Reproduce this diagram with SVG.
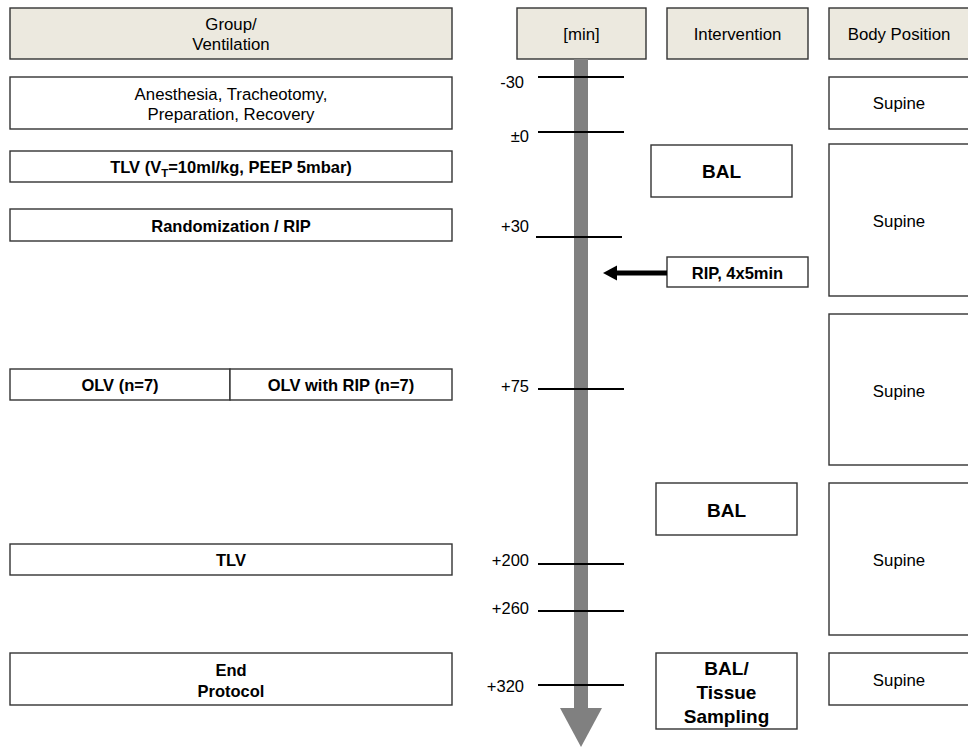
<svg xmlns="http://www.w3.org/2000/svg" width="968" height="749" viewBox="0 0 968 749">
<style>
  .box{fill:#ffffff;stroke:#333333;stroke-width:1.4}
  .hdr{fill:#ece9df;stroke:#333333;stroke-width:1.4}
  text{font-family:"Liberation Sans",Arial,sans-serif;fill:#000000;text-anchor:middle}
  .r{font-size:16.8px}
  .b{font-size:16.5px;font-weight:bold}
  .bb{font-size:19px;font-weight:bold}
  .lbl{font-size:16.5px;text-anchor:end}
  .tick{stroke:#000000;stroke-width:2}
</style>
<rect width="968" height="749" fill="#ffffff"/>

<g id="hdr-group">
  <rect class="hdr" x="10" y="8" width="442" height="51"/>
  <text class="r" x="231" y="30">Group/</text>
  <text class="r" x="231" y="50">Ventilation</text>
</g>
<g id="hdr-min">
  <rect class="hdr" x="517" y="8" width="129" height="51"/>
  <text class="r" x="581.5" y="40">[min]</text>
</g>
<g id="hdr-intervention">
  <rect class="hdr" x="667" y="8" width="141" height="51"/>
  <text class="r" x="737.5" y="40">Intervention</text>
</g>
<g id="hdr-body">
  <rect class="hdr" x="829" y="8" width="142" height="51"/>
  <text class="r" x="899" y="40">Body Position</text>
</g>

<g id="anesthesia">
  <rect class="box" x="10" y="77" width="442" height="52"/>
  <text class="r" x="231" y="100">Anesthesia, Tracheotomy,</text>
  <text class="r" x="231" y="120">Preparation, Recovery</text>
</g>
<g id="tlv1">
  <rect class="box" x="10" y="151" width="442" height="31"/>
  <text class="b" x="231" y="173">TLV (V<tspan font-size="11.5px" dy="4">T</tspan><tspan dy="-4">=10ml/kg, PEEP 5mbar)</tspan></text>
</g>
<g id="random">
  <rect class="box" x="10" y="209" width="442" height="32"/>
  <text class="b" x="231" y="232">Randomization / RIP</text>
</g>
<g id="olv">
  <rect class="box" x="10" y="369" width="220" height="31"/>
  <text class="b" x="120" y="391">OLV (n=7)</text>
</g>
<g id="olv-rip">
  <rect class="box" x="230" y="369" width="222" height="31"/>
  <text class="b" x="341" y="391">OLV with RIP (n=7)</text>
</g>
<g id="tlv2">
  <rect class="box" x="10" y="544" width="442" height="31"/>
  <text class="b" x="231" y="566">TLV</text>
</g>
<g id="end">
  <rect class="box" x="10" y="653" width="442" height="52"/>
  <text class="b" x="231" y="676">End</text>
  <text class="b" x="231" y="697">Protocol</text>
</g>

<g id="timeline">
  <rect x="574" y="59" width="14" height="650" fill="#808080"/>
  <polygon points="560,708 602,708 581,747" fill="#808080"/>
  <line class="tick" x1="538" y1="77" x2="624" y2="77"/>
  <line class="tick" x1="538" y1="132" x2="624" y2="132"/>
  <line class="tick" x1="536" y1="237" x2="622" y2="237"/>
  <line class="tick" x1="538" y1="389" x2="624" y2="389"/>
  <line class="tick" x1="538" y1="564" x2="624" y2="564"/>
  <line class="tick" x1="538" y1="611" x2="624" y2="611"/>
  <line class="tick" x1="538" y1="685" x2="624" y2="685"/>
  <text class="lbl" x="524" y="88">-30</text>
  <text class="lbl" x="529" y="142">±0</text>
  <text class="lbl" x="529" y="232">+30</text>
  <text class="lbl" x="529" y="392">+75</text>
  <text class="lbl" x="529" y="566">+200</text>
  <text class="lbl" x="529" y="614">+260</text>
  <text class="lbl" x="524" y="692">+320</text>
</g>

<g id="bal1">
  <rect class="box" x="651" y="145" width="141" height="52"/>
  <text class="bb" x="721.5" y="178">BAL</text>
</g>
<g id="rip">
  <rect class="box" x="667" y="257" width="141" height="30"/>
  <text class="b" x="737.5" y="279">RIP, 4x5min</text>
</g>
<g id="bal2">
  <rect class="box" x="656" y="483" width="141" height="52"/>
  <text class="bb" x="726.5" y="517">BAL</text>
</g>
<g id="bal3">
  <rect class="box" x="656" y="653" width="141" height="76"/>
  <text class="bb" x="726.5" y="675">BAL/</text>
  <text class="bb" x="726.5" y="699">Tissue</text>
  <text class="bb" x="726.5" y="723">Sampling</text>
</g>

<g id="connectors">
  <rect x="615" y="270.5" width="52" height="5" fill="#000000"/>
  <polygon points="603,273 617,265.5 617,280.5" fill="#000000"/>
</g>

<g id="supine1">
  <rect class="box" x="829" y="77" width="142" height="52"/>
  <text class="r" x="899" y="109">Supine</text>
</g>
<g id="supine2">
  <rect class="box" x="829" y="144" width="142" height="152"/>
  <text class="r" x="899" y="227">Supine</text>
</g>
<g id="supine3">
  <rect class="box" x="829" y="314" width="142" height="151"/>
  <text class="r" x="899" y="397">Supine</text>
</g>
<g id="supine4">
  <rect class="box" x="829" y="483" width="142" height="152"/>
  <text class="r" x="899" y="566">Supine</text>
</g>
<g id="supine5">
  <rect class="box" x="829" y="653" width="142" height="52"/>
  <text class="r" x="899" y="686">Supine</text>
</g>
</svg>
